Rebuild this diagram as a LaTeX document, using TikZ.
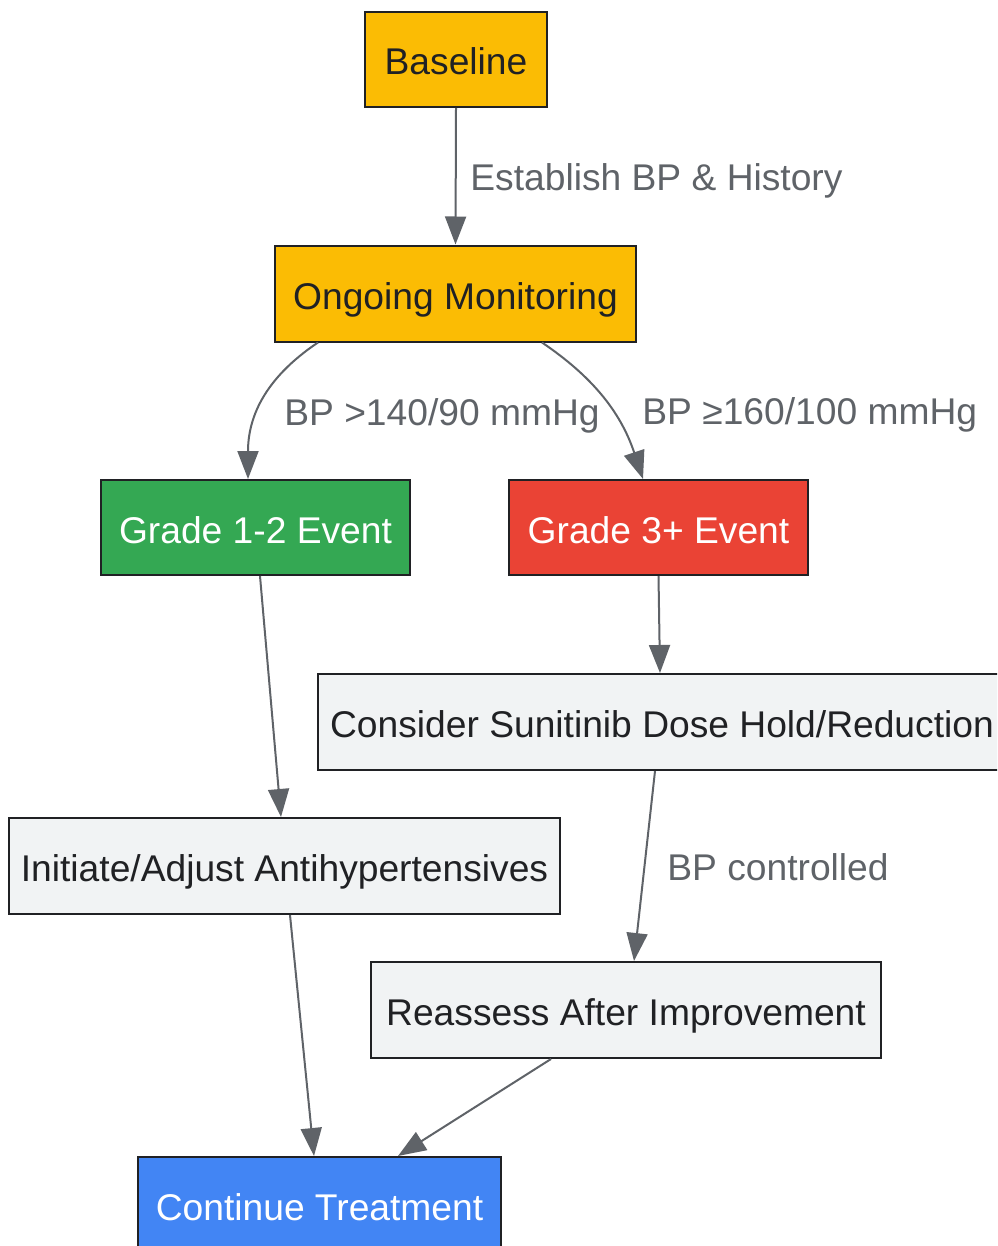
\documentclass[tikz,border=0pt]{standalone}
\usepackage{fontspec}
\setmainfont{Liberation Sans}
\usetikzlibrary{arrows.meta,calc}
\definecolor{cyel}{HTML}{FBBC04}
\definecolor{cgrn}{HTML}{34A853}
\definecolor{cred}{HTML}{EA4335}
\definecolor{cblu}{HTML}{4285F4}
\definecolor{cgry}{HTML}{F1F3F4}
\definecolor{cbrd}{HTML}{202124}
\definecolor{cedge}{HTML}{5F6368}
\begin{document}
\begin{tikzpicture}[x=0.5pt,y=-0.5pt,
  box/.style={draw=cbrd,line width=1pt,rectangle,inner sep=0pt,text=cbrd,
    font=\fontsize{18.6pt}{22pt}\selectfont,text height=17pt,text depth=1.5pt},
  wbox/.style={box,text=white},
  edge/.style={draw=cedge,line width=1pt,-{Triangle[length=14pt,width=10.5pt]}},
  elab/.style={text=cedge,font=\fontsize{18.6pt}{22pt}\selectfont,inner sep=0pt}]
\useasboundingbox (0,0) rectangle (997,1246);
\clip (0,0) rectangle (997,1246);
\node[box,fill=cyel,minimum width=91pt,minimum height=47.5pt] (b) at (456,59.5) {Baseline};
\node[box,fill=cyel,minimum width=180.5pt,minimum height=48pt] (om) at (455.5,293.5) {Ongoing Monitoring};
\node[wbox,fill=cgrn,minimum width=154.5pt,minimum height=47.5pt] (g12) at (255.5,527.5) {Grade 1-2 Event};
\node[wbox,fill=cred,minimum width=149.5pt,minimum height=47.5pt] (g3) at (658.5,527.5) {Grade 3+ Event};
\node[box,fill=cgry,minimum width=344pt,minimum height=48pt] (cons) at (662,722) {Consider Sunitinib Dose Hold/Reduction};
\node[box,fill=cgry,minimum width=275.5pt,minimum height=48pt] (init) at (284.5,866) {Initiate/Adjust Antihypertensives};
\node[box,fill=cgry,minimum width=255pt,minimum height=48pt] (reas) at (626,1010) {Reassess After Improvement};
\node[wbox,fill=cblu,minimum width=181.5pt,minimum height=48pt] (cont) at (319.5,1205) {Continue Treatment};
\draw[edge] (b.south) -- (om.north);
\node[elab,anchor=base west] (l1) at (470,191) {Establish BP \& History};
\draw[edge] ($(om.south)+(-137.5,0)$) .. controls (262,380) and (248,420) .. ($(g12.north)+(-7.5,0)$);
\node[elab,anchor=base] (l2) at (442,425) {BP >140/90 mmHg};
\draw[edge] ($(om.south)+(86.5,0)$) .. controls (590,375) and (620,410) .. ($(g3.north)+(-15.5,0)$);
\node[elab,anchor=base west] (l3) at (642,424) {BP ≥160/100 mmHg};
\draw[edge] (g3.south) -- ($(cons.north)+(-2,0)$);
\draw[edge] ($(g12.south)+(4.5,0)$) -- ($(init.north)+(-3.5,0)$);
\draw[edge] ($(cons.south)+(-7,0)$) -- ($(reas.north)+(8,0)$);
\node[elab,anchor=base west] (l4) at (667,880) {BP controlled};
\draw[edge] ($(init.south)+(5.5,0)$) -- ($(cont.north)+(-5.5,0)$);
\draw[edge] ($(reas.south)+(-75,0)$) -- ($(cont.north)+(78.5,0)$);
\end{tikzpicture}
\end{document}
